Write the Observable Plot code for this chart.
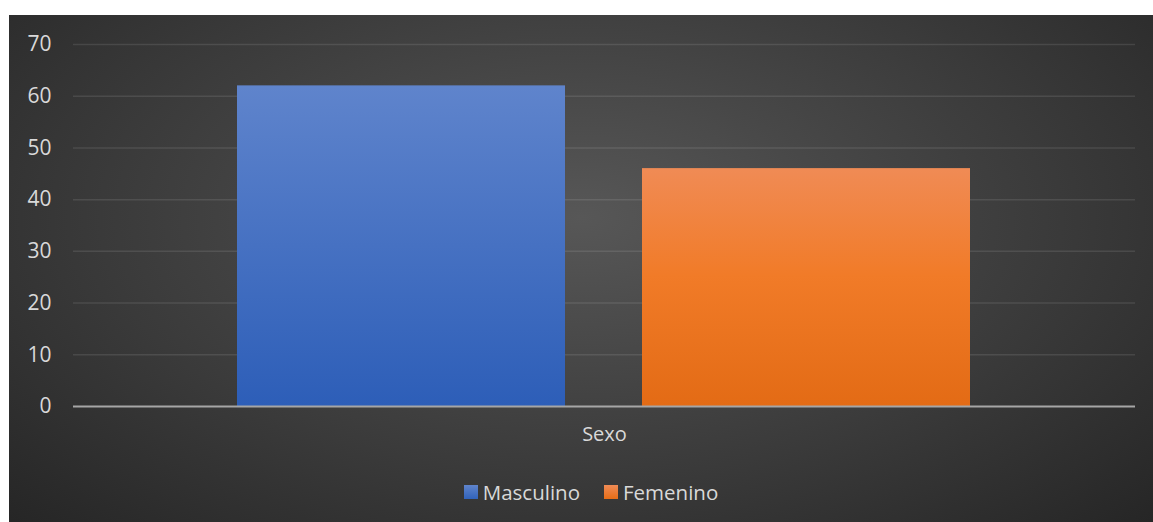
<!DOCTYPE html>
<html>
<head>
<meta charset="utf-8">
<script src="https://cdn.jsdelivr.net/npm/d3@7"></script>
<script src="https://cdn.jsdelivr.net/npm/@observablehq/plot@0.6"></script>
<style>
  html, body { margin: 0; padding: 0; background: #ffffff; }
  #panel {
    position: absolute; left: 9px; top: 15px; width: 1144px; height: 507px;
    background: radial-gradient(ellipse 70% 85% at 50% 40%, #575757 0%, #3a3a3a 60%, #262626 100%);
    font-family: "Open Sans", "Noto Sans", sans-serif;
    overflow: hidden;
  }
  #legend {
    display: flex; justify-content: center; align-items: center; gap: 24px;
    color: #d9d9d9; font-size: 20.5px; margin-top: 13px; padding-left: 20px;
  }
  #legend .item { display: flex; align-items: center; gap: 5px; }
  #legend .sw { width: 14px; height: 14px; display: inline-block; }
</style>
</head>
<body>
<div id="panel"><div id="chart"></div><div id="legend"></div></div>
<script>
const groups = ["Sexo"];
const series = ["Masculino", "Femenino"];
const values = [62, 46];
const yTicks = [0, 10, 20, 30, 40, 50, 60, 70];
const gridTicks = [10, 20, 30, 40, 50, 60, 70];
const fills = ["url(#gradBlue)", "url(#gradOrange)"];
const swatches = ["linear-gradient(#5f84cc, #3163bb)", "linear-gradient(#f08b55, #e66d16)"];

const data = series.map((s, i) => ({grupo: groups[0], serie: s, valor: values[i]}));

const chart = Plot.plot({
  width: 1144,
  height: 450,
  marginTop: 29,
  marginLeft: 64,
  marginRight: 18,
  marginBottom: 59,
  style: {background: "transparent", color: "#d9d9d9", fontFamily: "'Open Sans', 'Noto Sans', sans-serif"},
  fx: {domain: groups, padding: 0, label: null},
  x: {domain: series, paddingInner: 0.19, paddingOuter: 0.406, axis: null},
  y: {domain: [0, 70], label: null},
  color: {domain: series, range: fills},
  marks: [
    Plot.ruleY(gridTicks, {stroke: "#ffffff", strokeOpacity: 0.1, strokeWidth: 1.5}),
    Plot.barY(data, {fx: "grupo", x: "serie", y: "valor", fill: "serie", style: "filter: drop-shadow(0 0 4px rgba(0,0,0,0.45))"}),
    Plot.ruleY([0], {stroke: "#a6a6a6", strokeWidth: 2}),
    Plot.axisY({ticks: yTicks, tickSize: 0, tickPadding: 22, fontSize: 21, fill: "#d9d9d9", label: null}),
    Plot.axisFx({anchor: "bottom", tickSize: 0, tickPadding: 20, fontSize: 20, fill: "#d9d9d9", label: null})
  ]
});

const svg = d3.select(chart);
const defs = svg.insert("defs", ":first-child");
const g1 = defs.append("linearGradient").attr("id", "gradBlue").attr("x1", 0).attr("y1", 0).attr("x2", 0).attr("y2", 1);
g1.append("stop").attr("offset", "0%").attr("stop-color", "#5f84cc");
g1.append("stop").attr("offset", "100%").attr("stop-color", "#2d5eb8");
const g2 = defs.append("linearGradient").attr("id", "gradOrange").attr("x1", 0).attr("y1", 0).attr("x2", 0).attr("y2", 1);
g2.append("stop").attr("offset", "0%").attr("stop-color", "#f08b55");
g2.append("stop").attr("offset", "45%").attr("stop-color", "#f17b28");
g2.append("stop").attr("offset", "100%").attr("stop-color", "#e36b15");

document.getElementById("chart").appendChild(chart);

const legend = document.getElementById("legend");
series.forEach((s, i) => {
  const item = document.createElement("span");
  item.className = "item";
  const sw = document.createElement("span");
  sw.className = "sw";
  sw.style.background = swatches[i];
  const t = document.createElement("span");
  t.textContent = s;
  item.appendChild(sw);
  item.appendChild(t);
  legend.appendChild(item);
});
</script>
</body>
</html>
